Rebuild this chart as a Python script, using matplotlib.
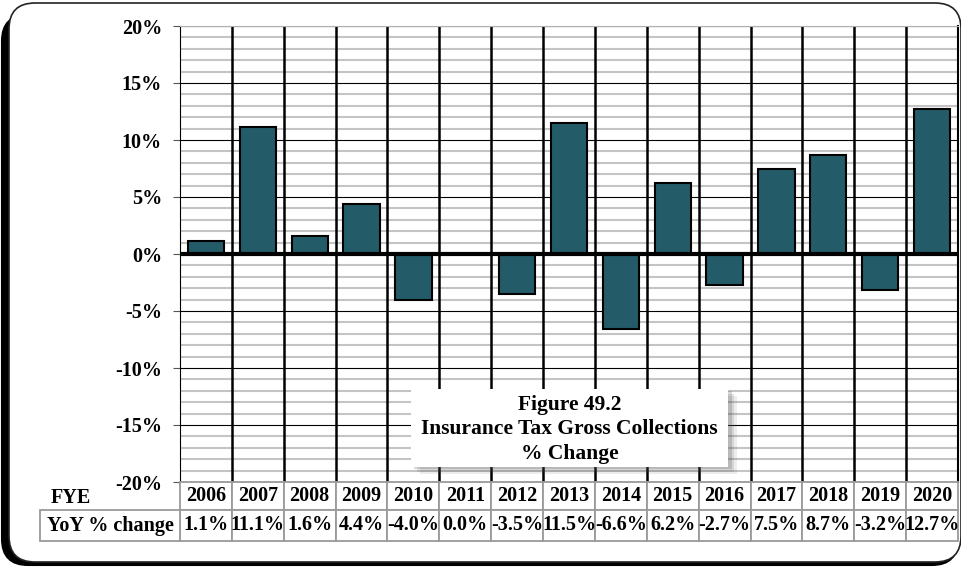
import numpy as np
import matplotlib
matplotlib.use('Agg')
import matplotlib.pyplot as plt
from matplotlib.patches import Rectangle, FancyBboxPatch
from matplotlib.ticker import MultipleLocator
from matplotlib.transforms import IdentityTransform, blended_transform_factory

# data
years = ['2006', '2007', '2008', '2009', '2010', '2011', '2012', '2013',
         '2014', '2015', '2016', '2017', '2018', '2019', '2020']
yoy = [1.1, 11.1, 1.6, 4.4, -4.0, 0.0, -3.5, 11.5, -6.6, 6.2, -2.7, 7.5, 8.7, -3.2, 12.7]
yticks = [-20, -15, -10, -5, 0, 5, 10, 15, 20]
row_label = 'YoY % change'
col_label = 'FYE'
title = 'Figure 49.2\nInsurance Tax Gross Collections\n% Change'

plt.rcParams['font.family'] = 'Liberation Serif'
plt.rcParams['font.weight'] = 'bold'

W, H = 962, 567
fig = plt.figure(figsize=(W / 100, H / 100), dpi=100)

# rounded frame, dark shadow mostly on the left
shadow = FancyBboxPatch((2, H - 565), 956, 550, boxstyle='round,pad=0,rounding_size=26',
                        transform=IdentityTransform(), fc='black', ec='black', lw=1.5, zorder=-3)
frame = FancyBboxPatch((9, H - 562), 952, 559, boxstyle='round,pad=0,rounding_size=26',
                       transform=IdentityTransform(), fc='white', ec='#222222', lw=1.2, zorder=-2)
fig.add_artist(shadow)
fig.add_artist(frame)

ax = fig.add_axes([180 / W, 1 - 482 / H, 778 / W, 456 / H])
x = np.arange(len(years))
ax.bar(x, yoy, width=0.7, color='#245B69', edgecolor='black', linewidth=1.5, zorder=3)
ax.axhline(0, color='black', lw=3, zorder=4)
for b in x[:-1] + 0.5:
    ax.axvline(b, color='black', lw=1.8, zorder=1)

ax.set_xlim(-0.5, len(years) - 0.5)
ax.set_ylim(-20, 20)
ax.set_yticks(yticks)
ax.set_yticklabels([f'{v}%' for v in yticks])
ax.yaxis.set_minor_locator(MultipleLocator(1))
ax.set_xticks([])
ax.set_axisbelow(True)
ax.grid(axis='y', which='minor', color='#c4c4c4', lw=1.5)
ax.grid(axis='y', which='major', color='black', lw=0.8)
ax.tick_params(axis='y', which='minor', length=0)
ax.tick_params(axis='y', which='major', length=5, width=0.8, color='#555555', labelsize=14.5, pad=8)
for lab in ax.get_yticklabels():
    lab.set_fontweight('bold')
ax.spines['left'].set_color('black')
ax.spines['right'].set_color('black')
ax.spines['right'].set_linewidth(1.5)
ax.spines['top'].set_color('#b0b0b0')
ax.spines['bottom'].set_visible(False)

# data table under the axis
trans = blended_transform_factory(ax.transData, ax.transAxes)
h1, h2 = 28 / 456, 31 / 456
cell_w = 778 / len(years)
lab_left = -0.5 - 140 / cell_w
gc = '#9a9a9a'
fs = 14.5
for i, (yr, v) in enumerate(zip(years, yoy)):
    ax.add_patch(Rectangle((i - 0.5, -h1), 1, h1, transform=trans, fc='white', ec=gc,
                           lw=1.3, clip_on=False, zorder=5))
    ax.text(i, -h1 / 2, yr, transform=trans, ha='center', va='center', fontsize=fs,
            fontweight='bold', clip_on=False, zorder=6)
    ax.add_patch(Rectangle((i - 0.5, -h1 - h2), 1, h2, transform=trans, fc='white', ec=gc,
                           lw=1.3, clip_on=False, zorder=5))
    ax.text(i, -h1 - h2 / 2, f'{v:.1f}%', transform=trans, ha='center', va='center',
            fontsize=fs, fontweight='bold', clip_on=False, zorder=6)
ax.add_patch(Rectangle((lab_left, -h1 - h2), -0.5 - lab_left, h2, transform=trans, fc='white',
                       ec=gc, lw=1.3, clip_on=False, zorder=5))
ax.text((lab_left - 0.5) / 2, -h1 - h2 / 2, row_label, transform=trans, ha='center', va='center',
        fontsize=fs, fontweight='bold', clip_on=False, zorder=6)
ax.text(lab_left + 0.2, -h1 / 2 - 0.004, col_label, transform=trans, ha='left', va='center',
        fontsize=fs, fontweight='bold', clip_on=False, zorder=4)

# title box with soft shadow
bx0, bx1, by0, by1 = 3.95, 10.07, -18.68, -11.84
for k, a in enumerate([0.10, 0.15, 0.22]):
    off = 0.05 * (3 - k)
    ax.add_patch(Rectangle((bx0 + off + 0.02, by0 - off * 4), bx1 - bx0, by1 - by0,
                           fc='#555555', ec='none', alpha=a, zorder=6))
ax.add_patch(Rectangle((bx0, by0), bx1 - bx0, by1 - by0, fc='white', ec='none', zorder=7))
ax.text((bx0 + bx1) / 2, (by0 + by1) / 2 - 0.1, title, ha='center', va='center', fontsize=15.5,
        fontweight='bold', multialignment='center', linespacing=1.3, zorder=8)

fig.savefig('out.png', dpi=100)
